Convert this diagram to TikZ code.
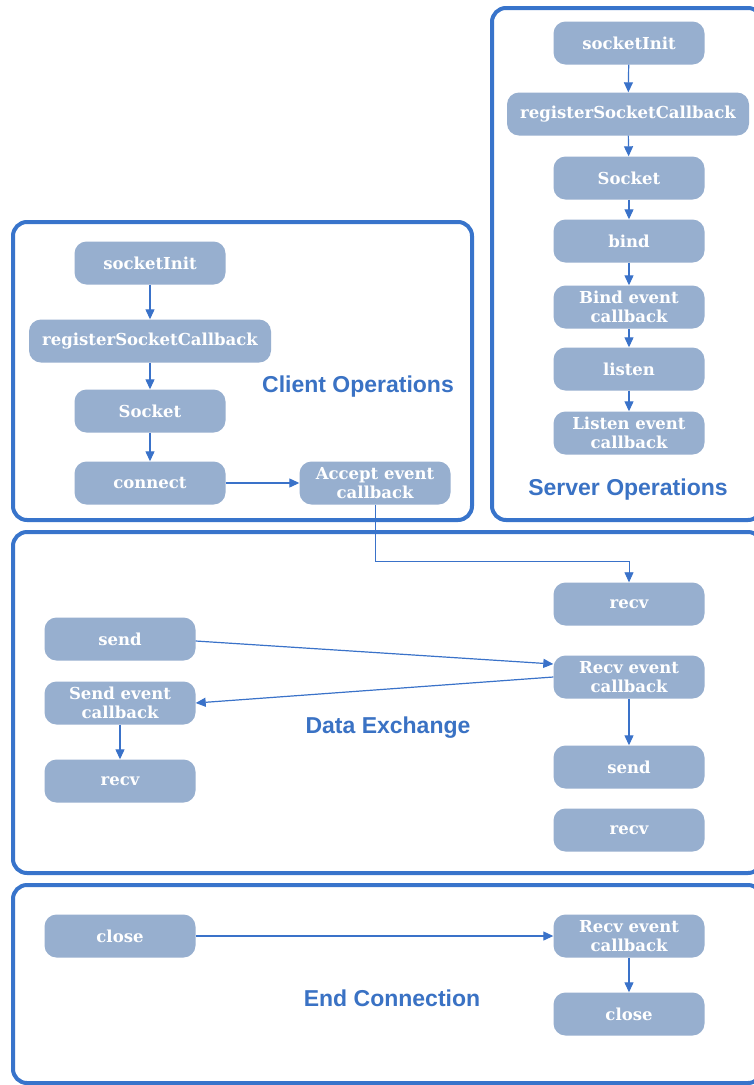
\documentclass[tikz,border=0pt]{standalone}
\usepackage{fontspec}
\usepackage{tikz}
\usetikzlibrary{arrows.meta}
\newfontfamily\opfont{DejaVu Serif}
\newfontfamily\lblfont{Liberation Sans}
\definecolor{framblue}{HTML}{3874CB}
\definecolor{arrblue}{HTML}{3A72C9}
\definecolor{opfill}{HTML}{97AFCF}
\definecolor{lblblue}{HTML}{3A72C4}
\tikzset{
  op/.style={fill=opfill, rounded corners=12pt, text=white, align=center,
    minimum width=151pt, minimum height=43pt, inner sep=0pt,
    font=\opfont\bfseries\fontsize{16.5}{19.5}\selectfont},
  wideop/.style={op, minimum width=242pt},
  frame/.style={draw=framblue, line width=4pt, rounded corners=14pt},
  lbl/.style={text=lblblue, font=\lblfont\bfseries\fontsize{23}{26}\selectfont},
  arr/.style={draw=arrblue, line width=1.2pt, -{Triangle[length=10pt,width=9pt]}}
}
\begin{document}
\begin{tikzpicture}[x=1pt,y=-1pt]
	\clip (0,0) rectangle (754,1085);
	\fill[white] (0,0) rectangle (754,1085);
	% frames
	\draw[frame] (492,8) rectangle (762,520);
	\draw[frame] (13,222) rectangle (472,520);
	\draw[frame] (13,532) rectangle (762,873);
	\draw[frame] (13,885) rectangle (762,1083);
	% server
	\node[op] (sInit) at (629,43) {socketInit};
	\node[wideop] (sReg) at (628,114) {registerSocketCallback};
	\node[op] (sSock) at (629,178) {Socket};
	\node[op] (sBind) at (629,241) {bind};
	\node[op] (sBindCb) at (629,307) {Bind event\\callback};
	\node[op] (sListen) at (629,369) {listen};
	\node[op] (sListenCb) at (629,433) {Listen event\\callback};
	\node[lbl] (sLbl) at (628,490) {Server Operations};
	\draw[arr] (sInit) -- (sReg);
	\draw[arr] (sReg) -- (sSock);
	\draw[arr] (sSock) -- (sBind);
	\draw[arr] (sBind) -- (sBindCb);
	\draw[arr] (sBindCb) -- (sListen);
	\draw[arr] (sListen) -- (sListenCb);
	% client
	\node[op] (cInit) at (150,263) {socketInit};
	\node[wideop] (cReg) at (150,341) {registerSocketCallback};
	\node[op] (cSock) at (150,411) {Socket};
	\node[op] (cConn) at (150,483) {connect};
	\node[op] (cAcceptCb) at (375,483) {Accept event\\callback};
	\node[lbl] (cLbl) at (358,387) {Client Operations};
	\draw[arr] (cInit) -- (cReg);
	\draw[arr] (cReg) -- (cSock);
	\draw[arr] (cSock) -- (cConn);
	\draw[arr] (cConn) -- (cAcceptCb);
	% data exchange
	\node[op] (dRecvR) at (629,604) {recv};
	\node[op] (dSendL) at (120,639) {send};
	\node[op] (dRecvCb) at (629,677) {Recv event\\callback};
	\node[op] (dSendCb) at (120,703) {Send event\\callback};
	\node[op] (dSendR) at (629,767) {send};
	\node[op] (dRecvL) at (120,781) {recv};
	\node[op] (dRecvR2) at (629,830) {recv};
	\node[lbl] (dLbl) at (388,728) {Data Exchange};
	\draw[arr, line width=0.8pt] (cAcceptCb.south) -- (cAcceptCb.south |- 0,561) -| (dRecvR.north);
	\draw[arr] ([yshift=-2pt]dSendL.east) -- ([yshift=13pt]dRecvCb.west);
	\draw[arr] (dRecvCb.west) -- (dSendCb.east);
	\draw[arr] (dSendCb) -- (dRecvL);
	\draw[arr] (dRecvCb) -- (dSendR);
	% end connection
	\node[op] (eClose) at (120,936) {close};
	\node[op] (eRecvCb) at (629,936) {Recv event\\callback};
	\node[op] (eCloseR) at (629,1014) {close};
	\node[lbl] (eLbl) at (392,998) {End Connection};
	\draw[arr] (eClose) -- (eRecvCb);
	\draw[arr] (eRecvCb) -- (eCloseR);
\end{tikzpicture}
\end{document}
